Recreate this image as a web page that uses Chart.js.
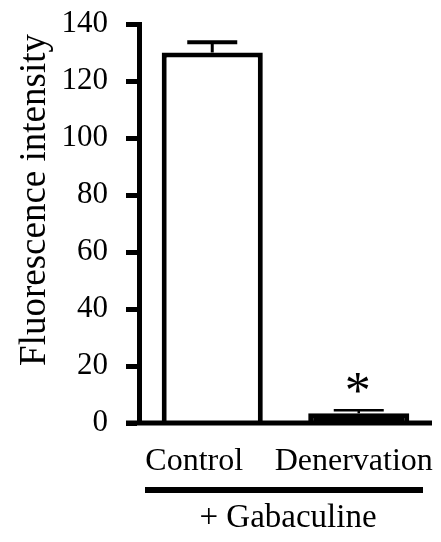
<!DOCTYPE html>
<html>
<head>
<meta charset="utf-8">
<script src="https://cdn.jsdelivr.net/npm/chart.js@4"></script>
<style>
  html, body { margin: 0; padding: 0; background: #fff; }
  #wrap { width: 441px; height: 542px; }
</style>
</head>
<body>
<div id="wrap"><canvas id="fluoChart" width="441" height="542"></canvas></div>
<script>
// Daten
const groups = ["Control", "Denervation"];
const means = [130, 3.4];
const errors = [3.6, 1.1];
const yTicks = [0, 20, 40, 60, 80, 100, 120, 140];
const yTitle = "Fluorescence intensity";
const treatment = "+ Gabaculine";
const sigMark = [false, true];

const serif = "'Liberation Serif', 'Times New Roman', serif";

// Fehlerbalken, Achsenlinie, Beschriftungen
const extras = {
    id: "extras",
    afterDatasetsDraw(chart) {
        const { ctx, chartArea, scales: { x, y } } = chart;
        ctx.save();
        ctx.strokeStyle = "#000";
        ctx.fillStyle = "#000";

        // x-Achse (reicht bis unter die Tick-Marken)
        const y0 = y.getPixelForValue(0);
        ctx.lineWidth = 5;
        ctx.beginPath();
        ctx.moveTo(126, y0);
        ctx.lineTo(chartArea.right, y0);
        ctx.stroke();

        // Fehlerbalken
        means.forEach((m, i) => {
            const cx = x.getPixelForValue(i);
            const top = y.getPixelForValue(m + errors[i]);
            const base = y.getPixelForValue(m);
            ctx.lineWidth = i === 0 ? 3 : 2.5;
            ctx.beginPath();
            ctx.moveTo(cx, base);
            ctx.lineTo(cx, top);
            ctx.stroke();
            ctx.lineWidth = i === 0 ? 4 : 2.5;
            ctx.beginPath();
            ctx.moveTo(cx - 25, top);
            ctx.lineTo(cx + 25, top);
            ctx.stroke();
            if (sigMark[i]) {
                ctx.font = "52px " + serif;
                ctx.textAlign = "center";
                ctx.textBaseline = "alphabetic";
                ctx.fillText("*", cx - 1, top - 2);
            }
        });

        // Kategorien
        ctx.font = "32px " + serif;
        ctx.textAlign = "center";
        ctx.textBaseline = "alphabetic";
        ctx.fillText(groups[0], x.getPixelForValue(0) - 18, 470);
        ctx.fillText(groups[1], x.getPixelForValue(1) - 5, 470);

        // Behandlungsbalken
        ctx.lineWidth = 6;
        ctx.beginPath();
        ctx.moveTo(145, 490);
        ctx.lineTo(423, 490);
        ctx.stroke();
        ctx.font = "33px " + serif;
        ctx.fillText(treatment, 288, 527);

        // y-Titel
        ctx.font = "37px " + serif;
        ctx.translate(45, 200);
        ctx.rotate(-Math.PI / 2);
        ctx.fillText(yTitle, 0, 0);
        ctx.restore();
    }
};

new Chart(document.getElementById("fluoChart"), {
    type: "bar",
    data: {
        labels: groups,
        datasets: [{
            data: means,
            backgroundColor: ["#ffffff", "#000000"],
            borderColor: "#000000",
            borderWidth: 5,
            barPercentage: 0.69,
            categoryPercentage: 1.0,
        }],
    },
    options: {
        responsive: false,
        animation: false,
        layout: { padding: { top: 24, right: 9, left: 0, bottom: 0 } },
        plugins: { legend: { display: false }, tooltip: { enabled: false } },
        scales: {
            x: {
                offset: true,
                grid: { display: false },
                border: { display: false },
                ticks: { display: false },
                afterFit(scale) {
                    scale.height = 119;
                    scale.paddingLeft = 0;
                    scale.paddingRight = 0;
                },
            },
            y: {
                min: 0,
                max: 140,
                afterBuildTicks(scale) { scale.ticks = yTicks.map(v => ({ value: v })); },
                grid: {
                    drawOnChartArea: false,
                    drawTicks: true,
                    tickLength: 13,
                    tickWidth: 5,
                    tickColor: "#000",
                },
                border: { display: true, color: "#000", width: 5 },
                ticks: {
                    color: "#000",
                    padding: 18,
                    font: { family: serif, size: 31 },
                },
                afterFit(scale) {
                    scale.width = 139;
                    scale.paddingTop = 0;
                    scale.paddingBottom = 0;
                },
            },
        },
    },
    plugins: [extras],
});
</script>
</body>
</html>
